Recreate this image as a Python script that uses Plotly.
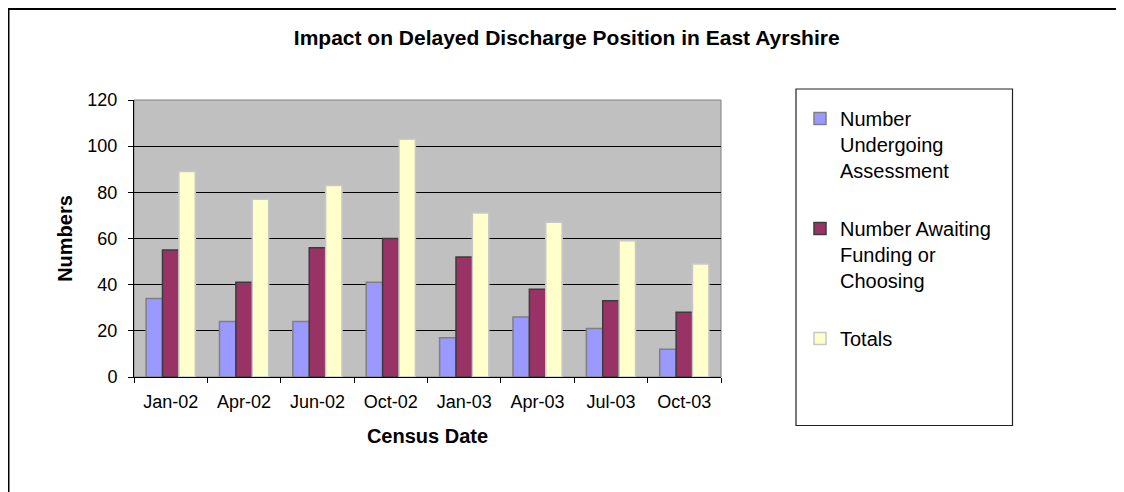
import plotly.graph_objects as go

categories = ["Jan-02", "Apr-02", "Jun-02", "Oct-02", "Jan-03", "Apr-03", "Jul-03", "Oct-03"]
undergoing = [34, 24, 24, 41, 17, 26, 21, 12]
awaiting = [55, 41, 56, 60, 52, 38, 33, 28]
totals = [89, 77, 83, 103, 71, 67, 59, 49]

series_names = ["Number<br>Undergoing<br>Assessment", "Number Awaiting<br>Funding or<br>Choosing", "Totals"]
series_values = [undergoing, awaiting, totals]
fill_colors = ["#9999FF", "#993366", "#FFFFCC"]
edge_colors = ["#808080", "#3C3C3C", "#C8C8C8"]

# the page places the figure 8px in from the top-left corner
W, H = 1116, 484
L, R, T, B = 126, 713, 92, 369

fig = go.Figure()
for i, (name, vals) in enumerate(zip(series_names, series_values)):
    fig.add_trace(go.Bar(
        x=categories, y=vals, name=name, legendgroup=str(i),
        marker=dict(color=fill_colors[i], line=dict(color=edge_colors[i], width=1.5)),
    ))

def px_x(p):
    return (p - L) / (R - L)

def px_y(p):
    return (B - p) / (B - T)

shapes = [
    dict(type="rect", xref="paper", yref="paper", x0=0, x1=1, y0=0, y1=1,
         line=dict(color="#808080", width=1), layer="below"),
    dict(type="rect", xref="paper", yref="paper", x0=px_x(788), x1=px_x(1004.5), y0=px_y(417.5), y1=px_y(81),
         line=dict(color="#222222", width=1.2)),
    dict(type="rect", xref="paper", yref="paper", x0=px_x(0.5), x1=px_x(1140), y0=px_y(510), y1=px_y(1),
         line=dict(color="#000000", width=2)),
]

fig.update_layout(
    width=W, height=H,
    margin=dict(l=L, r=W - R, t=T, b=H - B, pad=0),
    paper_bgcolor="white",
    plot_bgcolor="#C0C0C0",
    font=dict(family="Arial, Liberation Sans, sans-serif", color="black", size=18),
    title=dict(text="<b>Impact on Delayed Discharge Position in East Ayrshire</b>",
               x=558.7 / W, y=1 - 30 / H, xanchor="center", yanchor="middle",
               font=dict(size=21, color="black")),
    barmode="group", bargap=0.33, bargroupgap=0.0,
    showlegend=True,
    legend=dict(x=px_x(792), y=px_y(91), xanchor="left", yanchor="top",
                font=dict(size=20, color="black"), valign="top",
                tracegroupgap=29, itemwidth=30, bgcolor="rgba(0,0,0,0)",
                traceorder="grouped", maxheight=420),
    shapes=shapes,
    xaxis=dict(
        title=dict(text="<b>Census Date</b>", font=dict(size=20), standoff=18),
        showline=True, linecolor="black", linewidth=1,
        ticks="outside", tickson="boundaries", ticklen=5, tickcolor="black",
        showgrid=False, tickfont=dict(size=18), ticklabelstandoff=8,
    ),
    yaxis=dict(
        title=dict(text="<b>Numbers</b>", font=dict(size=20), standoff=9),
        range=[0, 120], dtick=20, showline=True, linecolor="black", linewidth=1,
        ticks="outside", ticklen=5, tickcolor="black",
        showgrid=True, gridcolor="black", gridwidth=1,
        tickfont=dict(size=18), ticklabelstandoff=7, zeroline=False,
    ),
)

fig.write_html("out.html")
